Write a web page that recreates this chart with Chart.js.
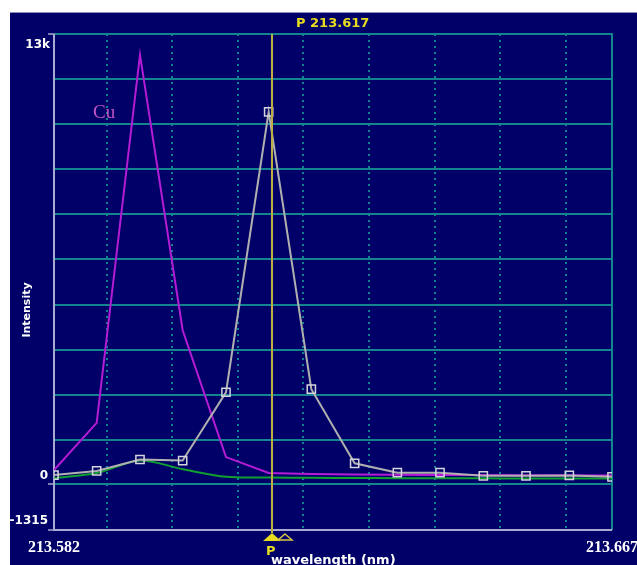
<!DOCTYPE html>
<html>
<head>
<meta charset="utf-8">
<script src="https://cdn.jsdelivr.net/npm/chart.js@4.4.0/dist/chart.umd.min.js"></script>
<style>
html,body{margin:0;padding:0;background:#fff;}
canvas{display:block;}
</style>
</head>
<body>
<canvas id="c" width="637" height="565"></canvas>
<script>
// ---- data ----
const wavelengths = [213.5820, 213.5885, 213.5951, 213.6016, 213.6082, 213.6147, 213.6212, 213.6278, 213.6343, 213.6408, 213.6474, 213.6539, 213.6605, 213.6670];
const sampleIntensity = [270, 390, 720, 690, 2660, 10750, 2750, 610, 340, 340, 250, 250, 260, 220];
const cuIntensity = [415, 1775, 12400, 4450, 790, 330, 300, 290, 280, 275, 270, 265, 262, 260];
const blankIntensity = [180, 330, 690, 440, 220, 200, 190, 185, 180, 180, 175, 172, 170, 170];

const xMin = 213.582, xMax = 213.667;
const yMin = -1315, yMax = 13000;
const xGridValues = [213.59, 213.60, 213.61, 213.62, 213.63, 213.64, 213.65, 213.66];
const yGridValues = [-1315, 0, 1288, 2589, 3891, 5192, 6493, 7795, 9096, 10397, 11699, 13000];
const yTickValues = [13000, 0, -1315];
const yTickLabels = ['13k', '0', '-1315'];
const xTickValues = [213.582, 213.667];
const xTickLabels = ['213.582', '213.667'];
const cursorWavelength = 213.6152;
const cursorLabel = 'P 213.617';
const xTitle = 'wavelength (nm)';
const yTitle = 'Intensity';
const seriesLabel = 'Cu';

const NAVY = '#000068';
const TEAL = '#14858f';
const AXIS = '#a8a8d0';
const YEL = '#bcae42';

const pts = (ys) => wavelengths.map((x, i) => ({x, y: ys[i]}));

const decor = {
  id: 'decor',
  beforeDraw(chart) {
    const ctx = chart.ctx;
    ctx.save();
    ctx.fillStyle = '#fff';
    ctx.fillRect(0, 0, chart.width, chart.height);
    ctx.fillStyle = NAVY;
    ctx.fillRect(10, 12, chart.width - 10, chart.height - 12);
    ctx.strokeStyle = '#9090c0';
    ctx.lineWidth = 1;
    ctx.beginPath(); ctx.moveTo(10, 12.5); ctx.lineTo(chart.width, 12.5); ctx.stroke();
    ctx.restore();
  },
  beforeDatasetsDraw(chart) {
    const {ctx, chartArea: a, scales: {x, y}} = chart;
    ctx.save();
    // frame: top and right in teal
    ctx.strokeStyle = TEAL; ctx.lineWidth = 2;
    ctx.beginPath();
    ctx.moveTo(a.left, a.top); ctx.lineTo(a.right, a.top); ctx.lineTo(a.right, a.bottom);
    ctx.stroke();
    // axes in lavender
    ctx.strokeStyle = AXIS; ctx.lineWidth = 2;
    ctx.beginPath();
    ctx.moveTo(a.left, a.top); ctx.lineTo(a.left, a.bottom); ctx.lineTo(a.right, a.bottom);
    ctx.stroke();
    // y tick marks
    ctx.lineWidth = 1.5;
    yTickValues.forEach(v => {
      const py = Math.round(y.getPixelForValue(v));
      ctx.beginPath(); ctx.moveTo(a.left - 6, py); ctx.lineTo(a.left, py); ctx.stroke();
    });
    // y tick labels
    ctx.fillStyle = '#ffffff';
    ctx.font = 'bold 12px "DejaVu Sans"';
    ctx.textAlign = 'right';
    yTickValues.forEach((v, i) => {
      const py = y.getPixelForValue(v);
      if (i === 0) { ctx.textBaseline = 'top'; ctx.fillText(yTickLabels[i], a.left - 4, py + 5); }
      else { ctx.textBaseline = 'bottom'; ctx.fillText(yTickLabels[i], a.left - 6, py - 3); }
    });
    // x tick labels
    ctx.font = 'bold 16px "Liberation Serif"';
    ctx.textAlign = 'center'; ctx.textBaseline = 'alphabetic';
    xTickValues.forEach((v, i) => {
      ctx.fillText(xTickLabels[i], x.getPixelForValue(v), 552);
    });
    // axis titles
    ctx.font = 'bold 13px "DejaVu Sans"';
    ctx.textAlign = 'left';
    ctx.fillText(xTitle, 271, 564);
    ctx.save();
    ctx.translate(30, 310);
    ctx.rotate(-Math.PI / 2);
    ctx.font = 'bold 11px "DejaVu Sans"';
    ctx.textAlign = 'center'; ctx.textBaseline = 'alphabetic';
    ctx.fillText(yTitle, 0, 0);
    ctx.restore();
    // series label
    ctx.fillStyle = '#c456c4';
    ctx.font = '19px "Liberation Serif"';
    ctx.textAlign = 'left'; ctx.textBaseline = 'alphabetic';
    ctx.fillText(seriesLabel, 93, 118);
    ctx.restore();
  },
  afterDatasetsDraw(chart) {
    const {ctx, chartArea: a, scales: {x}} = chart;
    const px = Math.round(x.getPixelForValue(cursorWavelength));
    ctx.save();
    ctx.strokeStyle = YEL; ctx.lineWidth = 2;
    ctx.beginPath(); ctx.moveTo(px, a.top); ctx.lineTo(px, a.bottom + 3); ctx.stroke();
    // filled marker
    ctx.fillStyle = '#e8dc20';
    ctx.beginPath(); ctx.moveTo(px, a.bottom + 3); ctx.lineTo(px + 9, a.bottom + 11); ctx.lineTo(px - 9, a.bottom + 11); ctx.closePath(); ctx.fill();
    // hollow marker
    ctx.strokeStyle = '#d8c840'; ctx.lineWidth = 1.5;
    ctx.beginPath(); ctx.moveTo(px + 13, a.bottom + 4); ctx.lineTo(px + 20, a.bottom + 10); ctx.lineTo(px + 6, a.bottom + 10); ctx.closePath(); ctx.stroke();
    // labels
    ctx.fillStyle = '#e8dc20';
    ctx.font = 'bold 13px "DejaVu Sans"';
    ctx.textAlign = 'left'; ctx.textBaseline = 'alphabetic';
    ctx.fillText('P', px - 6, 555);
    ctx.fillText(cursorLabel, 296, 27);
    ctx.restore();
  }
};

new Chart(document.getElementById('c'), {
  type: 'line',
  data: {
    datasets: [
      {label: 'Cu', data: pts(cuIntensity), borderColor: '#b41cd4', borderWidth: 2, pointRadius: 0, tension: 0, order: 3},
      {label: 'blank', data: pts(blankIntensity), borderColor: '#10a030', borderWidth: 2, pointRadius: 0, tension: 0.3, order: 2},
      {label: 'sample', data: pts(sampleIntensity), borderColor: '#b0b0b0', borderWidth: 2,
       pointStyle: 'rect', pointRadius: 5.8, pointBorderColor: '#d4d4dc', pointBackgroundColor: 'rgba(0,0,0,0)', pointBorderWidth: 1.5, tension: 0, order: 1}
    ]
  },
  options: {
    responsive: false,
    animation: false,
    events: [],
    layout: {padding: {left: 54, top: 34, right: 25, bottom: 35}},
    plugins: {legend: {display: false}, tooltip: {enabled: false}},
    scales: {
      x: {
        type: 'linear', min: xMin, max: xMax,
        afterBuildTicks: (s) => { s.ticks = xGridValues.map(v => ({value: v})); },
        ticks: {display: false},
        grid: {color: '#0e8290', lineWidth: 2, drawTicks: false},
        border: {display: false, dash: [2, 4]}
      },
      y: {
        type: 'linear', min: yMin, max: yMax,
        afterBuildTicks: (s) => { s.ticks = yGridValues.map(v => ({value: v})); },
        ticks: {display: false},
        grid: {color: TEAL, lineWidth: 2, drawTicks: false},
        border: {display: false}
      }
    }
  },
  plugins: [decor]
});
</script>
</body>
</html>
